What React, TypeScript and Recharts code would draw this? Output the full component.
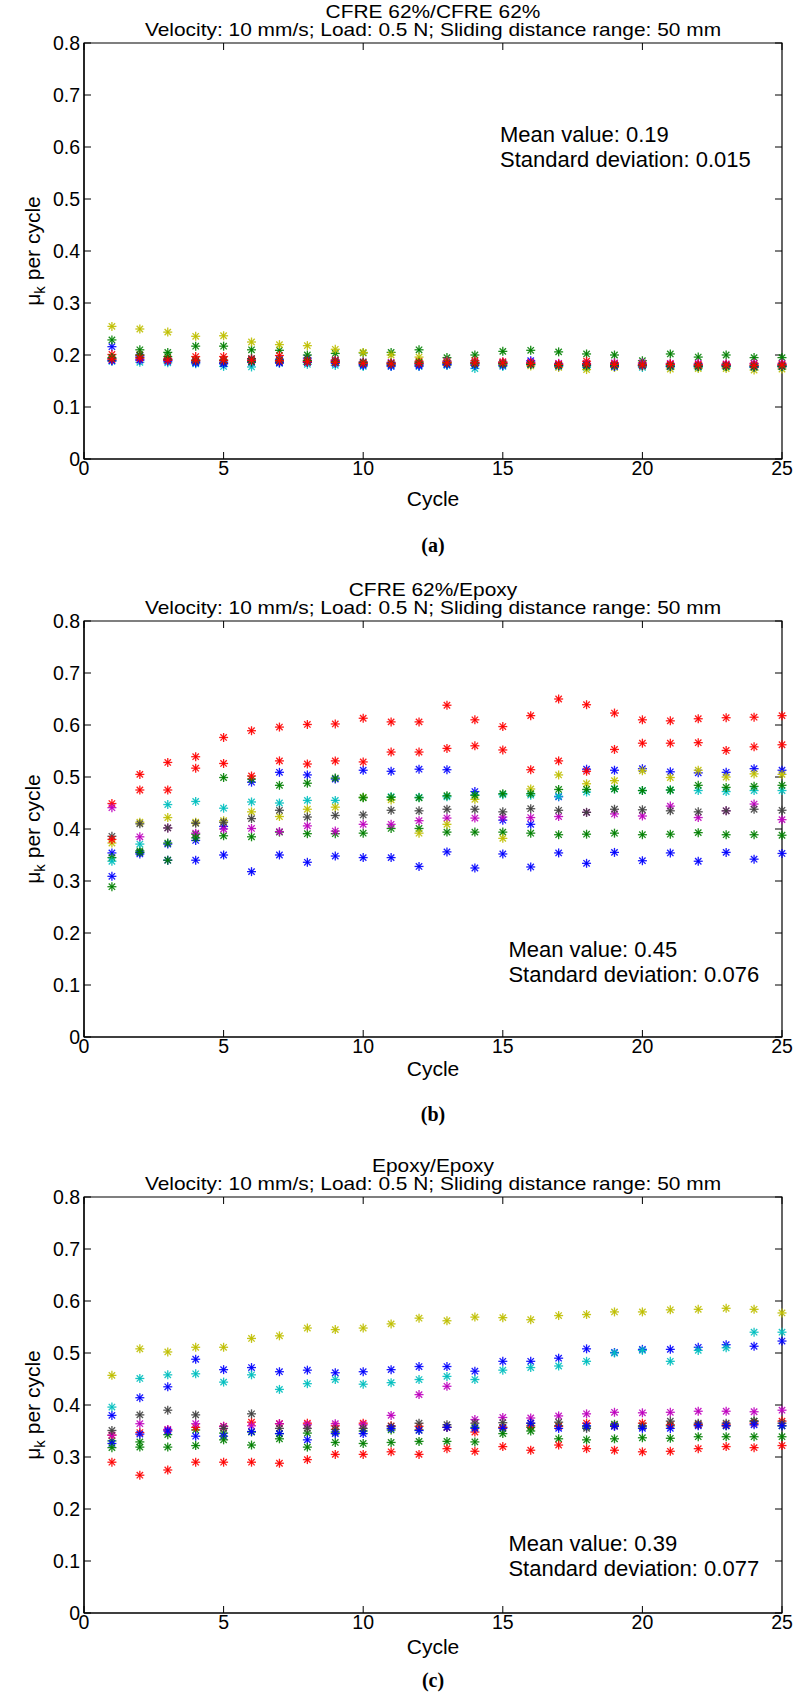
import { ScatterChart, Scatter, XAxis, YAxis, ReferenceArea } from "recharts";

const cycles = [1, 2, 3, 4, 5, 6, 7, 8, 9, 10, 11, 12, 13, 14, 15, 16, 17, 18, 19, 20, 21, 22, 23, 24, 25];
const xTicks = [0, 5, 10, 15, 20, 25];
const yTicks = [0, 0.1, 0.2, 0.3, 0.4, 0.5, 0.6, 0.7, 0.8];

// matlab default colour order
const BLUE = "#0000ff";
const GREEN = "#008000";
const RED = "#ff0000";
const CYAN = "#00bfbf";
const MAGENTA = "#bf00bf";
const YELLOW = "#bfbf00";
const GRAY = "#404040";

// (a) CFRE 62%/CFRE 62%
const aBlue = [0.216, 0.198, 0.19, 0.186, 0.184, 0.19, 0.192, 0.194, 0.19, 0.182, 0.178, 0.181, 0.181, 0.183, 0.184, 0.189, 0.18, 0.181, 0.179, 0.18, 0.178, 0.179, 0.18, 0.178, 0.179];
const aGreen = [0.229, 0.21, 0.205, 0.217, 0.217, 0.21, 0.209, 0.2, 0.203, 0.204, 0.205, 0.21, 0.195, 0.2, 0.207, 0.209, 0.206, 0.202, 0.2, 0.189, 0.202, 0.196, 0.2, 0.195, 0.195];
const aRed = [0.201, 0.2, 0.193, 0.197, 0.197, 0.193, 0.199, 0.19, 0.19, 0.185, 0.185, 0.188, 0.188, 0.189, 0.187, 0.186, 0.183, 0.188, 0.184, 0.183, 0.183, 0.182, 0.182, 0.183, 0.182];
const aCyan = [0.188, 0.186, 0.185, 0.183, 0.178, 0.177, 0.184, 0.182, 0.18, 0.178, 0.179, 0.178, 0.18, 0.174, 0.178, 0.181, 0.178, 0.176, 0.177, 0.176, 0.177, 0.176, 0.177, 0.176, 0.177];
const aMagenta = [0.19, 0.191, 0.191, 0.189, 0.189, 0.189, 0.186, 0.188, 0.188, 0.187, 0.186, 0.184, 0.188, 0.186, 0.186, 0.186, 0.184, 0.184, 0.185, 0.185, 0.184, 0.184, 0.183, 0.184, 0.184];
const aYellow = [0.255, 0.25, 0.244, 0.236, 0.237, 0.225, 0.22, 0.218, 0.211, 0.205, 0.2, 0.196, 0.186, 0.184, 0.182, 0.179, 0.176, 0.172, 0.176, 0.178, 0.173, 0.174, 0.174, 0.171, 0.173];
const aGray = [0.193, 0.195, 0.191, 0.188, 0.186, 0.193, 0.188, 0.186, 0.186, 0.183, 0.182, 0.183, 0.184, 0.185, 0.184, 0.183, 0.181, 0.182, 0.181, 0.18, 0.181, 0.18, 0.18, 0.18, 0.18];
const aBlue2 = [0.189, 0.19, 0.188, 0.185, 0.183, 0.186, 0.185, 0.186, 0.184, 0.18, 0.18, 0.179, 0.182, 0.18, 0.18, 0.182, 0.179, 0.18, 0.178, 0.179, 0.178, 0.178, 0.179, 0.177, 0.178];
const aGreen2 = [0.195, 0.2, 0.197, 0.19, 0.19, 0.187, 0.19, 0.189, 0.187, 0.186, 0.184, 0.186, 0.185, 0.183, 0.183, 0.182, 0.18, 0.179, 0.18, 0.181, 0.179, 0.178, 0.178, 0.177, 0.178];
const aRed2 = [0.192, 0.194, 0.19, 0.19, 0.19, 0.19, 0.189, 0.187, 0.186, 0.184, 0.183, 0.184, 0.185, 0.185, 0.185, 0.184, 0.182, 0.183, 0.182, 0.181, 0.182, 0.181, 0.181, 0.18, 0.181];

// (b) CFRE 62%/Epoxy
const bBlue = [0.354, 0.355, 0.371, 0.378, 0.405, 0.49, 0.509, 0.504, 0.496, 0.513, 0.511, 0.515, 0.514, 0.472, 0.417, 0.409, 0.462, 0.515, 0.513, 0.516, 0.51, 0.508, 0.509, 0.516, 0.513];
const bGreen = [0.345, 0.358, 0.373, 0.39, 0.387, 0.385, 0.394, 0.391, 0.391, 0.392, 0.401, 0.401, 0.394, 0.394, 0.394, 0.392, 0.389, 0.39, 0.392, 0.389, 0.39, 0.393, 0.389, 0.389, 0.388];
const bRed = [0.449, 0.505, 0.528, 0.539, 0.576, 0.589, 0.596, 0.601, 0.602, 0.613, 0.606, 0.606, 0.638, 0.61, 0.597, 0.618, 0.65, 0.639, 0.623, 0.61, 0.608, 0.612, 0.614, 0.615, 0.618];
const bCyan = [0.338, 0.371, 0.447, 0.453, 0.44, 0.452, 0.45, 0.455, 0.455, 0.461, 0.462, 0.461, 0.462, 0.465, 0.466, 0.465, 0.463, 0.471, 0.477, 0.474, 0.475, 0.474, 0.472, 0.474, 0.474];
const bMagenta = [0.441, 0.385, 0.402, 0.392, 0.4, 0.401, 0.395, 0.406, 0.396, 0.409, 0.409, 0.416, 0.421, 0.421, 0.423, 0.422, 0.424, 0.432, 0.429, 0.425, 0.444, 0.422, 0.435, 0.448, 0.418];
const bYellow = [0.373, 0.413, 0.422, 0.413, 0.416, 0.433, 0.424, 0.438, 0.442, 0.461, 0.456, 0.392, 0.409, 0.457, 0.382, 0.477, 0.504, 0.487, 0.493, 0.512, 0.499, 0.513, 0.5, 0.506, 0.505];
const bGray = [0.386, 0.41, 0.402, 0.411, 0.413, 0.42, 0.436, 0.423, 0.426, 0.427, 0.436, 0.435, 0.438, 0.438, 0.433, 0.439, 0.436, 0.432, 0.438, 0.437, 0.435, 0.433, 0.435, 0.438, 0.436];
const bBlue2 = [0.309, 0.352, 0.34, 0.34, 0.35, 0.318, 0.35, 0.336, 0.348, 0.345, 0.345, 0.328, 0.356, 0.325, 0.352, 0.327, 0.354, 0.334, 0.355, 0.339, 0.354, 0.338, 0.355, 0.342, 0.353];
const bGreen2 = [0.289, 0.355, 0.34, 0.383, 0.499, 0.496, 0.484, 0.488, 0.498, 0.46, 0.461, 0.46, 0.464, 0.465, 0.468, 0.468, 0.476, 0.476, 0.477, 0.474, 0.475, 0.484, 0.48, 0.482, 0.484];
const bRed2 = [0.38, 0.475, 0.475, 0.517, 0.526, 0.502, 0.531, 0.525, 0.531, 0.529, 0.548, 0.548, 0.555, 0.56, 0.552, 0.514, 0.531, 0.511, 0.553, 0.565, 0.565, 0.566, 0.551, 0.558, 0.562];

// (c) Epoxy/Epoxy
const cBlue = [0.38, 0.414, 0.435, 0.488, 0.468, 0.472, 0.464, 0.467, 0.462, 0.464, 0.468, 0.474, 0.474, 0.465, 0.484, 0.484, 0.49, 0.508, 0.501, 0.507, 0.507, 0.511, 0.516, 0.513, 0.523];
const cGreen = [0.331, 0.329, 0.343, 0.352, 0.346, 0.348, 0.345, 0.346, 0.348, 0.35, 0.352, 0.352, 0.357, 0.357, 0.357, 0.357, 0.36, 0.358, 0.363, 0.36, 0.36, 0.362, 0.36, 0.369, 0.36];
const cRed = [0.342, 0.347, 0.352, 0.357, 0.359, 0.367, 0.364, 0.365, 0.36, 0.365, 0.36, 0.359, 0.357, 0.348, 0.357, 0.36, 0.359, 0.365, 0.36, 0.365, 0.362, 0.362, 0.362, 0.365, 0.369];
const cCyan = [0.396, 0.451, 0.458, 0.46, 0.444, 0.458, 0.43, 0.441, 0.449, 0.44, 0.443, 0.449, 0.455, 0.449, 0.467, 0.472, 0.475, 0.484, 0.5, 0.505, 0.484, 0.505, 0.51, 0.54, 0.54];
const cMagenta = [0.342, 0.364, 0.353, 0.364, 0.359, 0.36, 0.364, 0.362, 0.364, 0.362, 0.38, 0.42, 0.436, 0.372, 0.376, 0.375, 0.379, 0.383, 0.386, 0.385, 0.386, 0.388, 0.388, 0.387, 0.39];
const cYellow = [0.457, 0.508, 0.502, 0.511, 0.511, 0.528, 0.533, 0.548, 0.545, 0.548, 0.556, 0.567, 0.562, 0.569, 0.568, 0.564, 0.572, 0.574, 0.579, 0.579, 0.583, 0.584, 0.586, 0.584, 0.577];
const cGray = [0.351, 0.381, 0.39, 0.381, 0.355, 0.383, 0.355, 0.355, 0.353, 0.355, 0.359, 0.365, 0.362, 0.365, 0.366, 0.365, 0.367, 0.355, 0.36, 0.358, 0.369, 0.365, 0.365, 0.369, 0.365];
const cBlue2 = [0.326, 0.344, 0.35, 0.34, 0.34, 0.349, 0.345, 0.333, 0.345, 0.345, 0.355, 0.351, 0.357, 0.355, 0.355, 0.365, 0.355, 0.36, 0.359, 0.355, 0.355, 0.36, 0.36, 0.362, 0.36];
const cGreen2 = [0.318, 0.319, 0.319, 0.322, 0.333, 0.323, 0.335, 0.319, 0.328, 0.326, 0.328, 0.33, 0.33, 0.329, 0.345, 0.35, 0.335, 0.333, 0.335, 0.337, 0.336, 0.339, 0.339, 0.339, 0.339];
const cRed2 = [0.29, 0.265, 0.275, 0.29, 0.29, 0.29, 0.288, 0.295, 0.305, 0.305, 0.31, 0.305, 0.316, 0.311, 0.32, 0.313, 0.323, 0.316, 0.313, 0.31, 0.311, 0.316, 0.32, 0.318, 0.322];

const SUBTITLE = "Velocity: 10 mm/s; Load: 0.5 N; Sliding distance range: 50 mm";

const FONT = '"Liberation Sans", Arial, Helvetica, sans-serif';
const PLOT_LEFT = 84;
const PLOT_W = 698;
const PLOT_H = 416;

type Series = { color: string; values: number[] };

const toPoints = (values: number[]) => cycles.map((c, i) => ({ x: c, y: values[i] }));

// matlab '*' marker
const Asterisk = (props: any) => {
  const { cx, cy, fill } = props;
  if (cx == null || cy == null) return <g />;
  const r = 4.5;
  const d = r * 0.707;
  return (
    <g stroke={fill} strokeWidth={1.3} strokeOpacity={0.9}>
      <line x1={cx - r} y1={cy} x2={cx + r} y2={cy} />
      <line x1={cx} y1={cy - r} x2={cx} y2={cy + r} />
      <line x1={cx - d} y1={cy - d} x2={cx + d} y2={cy + d} />
      <line x1={cx - d} y1={cy + d} x2={cx + d} y2={cy - d} />
    </g>
  );
};

const fmtY = (v: number) => (v === 0 ? "0" : v.toFixed(1));
const noLabel = () => "";

type PanelProps = {
  bottom: number;
  title: string;
  series: Series[];
  mean: string;
  sd: string;
  noteX: number;
  noteY: number;
  cycleY: number;
  captionY: number;
  caption: string;
};

function Panel({ bottom, title, series, mean, sd, noteX, noteY, cycleY, captionY, caption }: PanelProps) {
  const top = bottom - PLOT_H;
  const px = (x: number) => PLOT_LEFT + (x / 25) * PLOT_W;
  const py = (y: number) => top + (1 - y / 0.8) * PLOT_H;
  const tickStyle = { fill: "#000", fontSize: 19.5, fontFamily: FONT };
  const titleLine = {
    height: 18,
    transform: "scaleX(1.1)",
    transformOrigin: "center",
  };
  return (
    <>
      <div
        style={{
          position: "absolute",
          left: PLOT_LEFT,
          width: PLOT_W,
          top: top - 40,
          textAlign: "center",
          fontFamily: FONT,
          fontSize: 19,
          lineHeight: "18px",
          whiteSpace: "nowrap",
        }}
      >
        <div style={titleLine}>{title}</div>
        <div style={titleLine}>{SUBTITLE}</div>
      </div>
      <div style={{ position: "absolute", left: 0, top: top - 10 }}>
        <ScatterChart width={797} height={PLOT_H + 40} margin={{ top: 9, right: 14, bottom: 0, left: 0 }}>
          <XAxis
            xAxisId="main"
            type="number"
            dataKey="x"
            domain={[0, 25]}
            ticks={xTicks}
            interval={0}
            height={30}
            tickSize={-7}
            tickMargin={9}
            tick={tickStyle}
            stroke="#000"
            axisLine={{ stroke: "#000", strokeWidth: 1.2 }}
          />
          <XAxis
            xAxisId="box"
            orientation="top"
            type="number"
            dataKey="x"
            domain={[0, 25]}
            allowDataOverflow
            ticks={xTicks}
            interval={0}
            height={1}
            tickSize={-7}
            tickFormatter={noLabel}
            tick={tickStyle}
            tickLine={{ stroke: "#000" }}
            stroke="#000"
            axisLine={false}
          />
          <YAxis
            yAxisId="main"
            type="number"
            dataKey="y"
            domain={[0, 0.8]}
            ticks={yTicks}
            interval={0}
            width={PLOT_LEFT}
            tickSize={-7}
            tickMargin={11}
            tickFormatter={fmtY}
            tick={tickStyle}
            stroke="#000"
            axisLine={{ stroke: "#000", strokeWidth: 1.2 }}
          />
          <YAxis
            yAxisId="box"
            orientation="right"
            type="number"
            dataKey="y"
            domain={[0, 0.8]}
            allowDataOverflow
            ticks={yTicks}
            interval={0}
            width={1}
            tickSize={-7}
            tickFormatter={noLabel}
            tick={tickStyle}
            tickLine={{ stroke: "#000" }}
            stroke="#000"
            axisLine={false}
          />
          <ReferenceArea
            xAxisId="main"
            yAxisId="main"
            x1={0}
            x2={25}
            y1={0}
            y2={0.8}
            fill="none"
            fillOpacity={0}
            stroke="#000"
            strokeWidth={1.2}
            strokeOpacity={1}
            ifOverflow="visible"
          />
          {series.map((s, i) => (
            <Scatter
              key={i}
              xAxisId="main"
              yAxisId="main"
              data={toPoints(s.values)}
              fill={s.color}
              shape={Asterisk}
              isAnimationActive={false}
            />
          ))}
          <Scatter
            xAxisId="box"
            yAxisId="box"
            data={toPoints(series[0].values)}
            shape={() => <g />}
            legendType="none"
            isAnimationActive={false}
          />
        </ScatterChart>
      </div>
      <svg style={{ position: "absolute", left: 0, top }} width={70} height={PLOT_H}>
        <text
          transform={`translate(40, ${PLOT_H / 2}) rotate(-90)`}
          textAnchor="middle"
          fontFamily={FONT}
          fontSize={21}
          fill="#000"
        >
          μ<tspan dy={5} fontSize={15}>k</tspan>
          <tspan dy={-5}> per cycle</tspan>
        </text>
      </svg>
      <div
        style={{
          position: "absolute",
          left: PLOT_LEFT,
          width: PLOT_W,
          top: cycleY - 12,
          textAlign: "center",
          fontFamily: FONT,
          fontSize: 21,
          lineHeight: "24px",
        }}
      >
        Cycle
      </div>
      <div
        style={{
          position: "absolute",
          left: px(noteX),
          top: py(noteY) - 12,
          fontFamily: FONT,
          fontSize: 22,
          lineHeight: "25px",
          whiteSpace: "nowrap",
        }}
      >
        <div>{mean}</div>
        <div>{sd}</div>
      </div>
      <div
        style={{
          position: "absolute",
          left: PLOT_LEFT,
          width: PLOT_W,
          top: captionY - 11,
          textAlign: "center",
          fontFamily: '"Liberation Serif", "DejaVu Serif", serif',
          fontWeight: "bold",
          fontSize: 20,
          lineHeight: "22px",
        }}
      >
        {caption}
      </div>
    </>
  );
}

const panelA: Series[] = [
  { color: BLUE, values: aBlue },
  { color: GREEN, values: aGreen },
  { color: RED, values: aRed },
  { color: CYAN, values: aCyan },
  { color: MAGENTA, values: aMagenta },
  { color: YELLOW, values: aYellow },
  { color: GRAY, values: aGray },
  { color: BLUE, values: aBlue2 },
  { color: GREEN, values: aGreen2 },
  { color: RED, values: aRed2 },
];

const panelB: Series[] = [
  { color: BLUE, values: bBlue },
  { color: GREEN, values: bGreen },
  { color: RED, values: bRed },
  { color: CYAN, values: bCyan },
  { color: MAGENTA, values: bMagenta },
  { color: YELLOW, values: bYellow },
  { color: GRAY, values: bGray },
  { color: BLUE, values: bBlue2 },
  { color: GREEN, values: bGreen2 },
  { color: RED, values: bRed2 },
];

const panelC: Series[] = [
  { color: BLUE, values: cBlue },
  { color: GREEN, values: cGreen },
  { color: RED, values: cRed },
  { color: CYAN, values: cCyan },
  { color: MAGENTA, values: cMagenta },
  { color: YELLOW, values: cYellow },
  { color: GRAY, values: cGray },
  { color: BLUE, values: cBlue2 },
  { color: GREEN, values: cGreen2 },
  { color: RED, values: cRed2 },
];

export default function App() {
  return (
    <div style={{ position: "absolute", left: 0, top: 0, width: 797, height: 1693, background: "#fff", overflow: "hidden" }}>
      <Panel
        bottom={459}
        title="CFRE 62%/CFRE 62%"
        series={panelA}
        mean="Mean value: 0.19"
        sd="Standard deviation: 0.015"
        noteX={14.9}
        noteY={0.625}
        cycleY={499}
        captionY={545}
        caption="(a)"
      />
      <Panel
        bottom={1037}
        title="CFRE 62%/Epoxy"
        series={panelB}
        mean="Mean value: 0.45"
        sd="Standard deviation: 0.076"
        noteX={15.2}
        noteY={0.17}
        cycleY={1069}
        captionY={1114}
        caption="(b)"
      />
      <Panel
        bottom={1613}
        title="Epoxy/Epoxy"
        series={panelC}
        mean="Mean value: 0.39"
        sd="Standard deviation: 0.077"
        noteX={15.2}
        noteY={0.135}
        cycleY={1647}
        captionY={1680}
        caption="(c)"
      />
    </div>
  );
}
